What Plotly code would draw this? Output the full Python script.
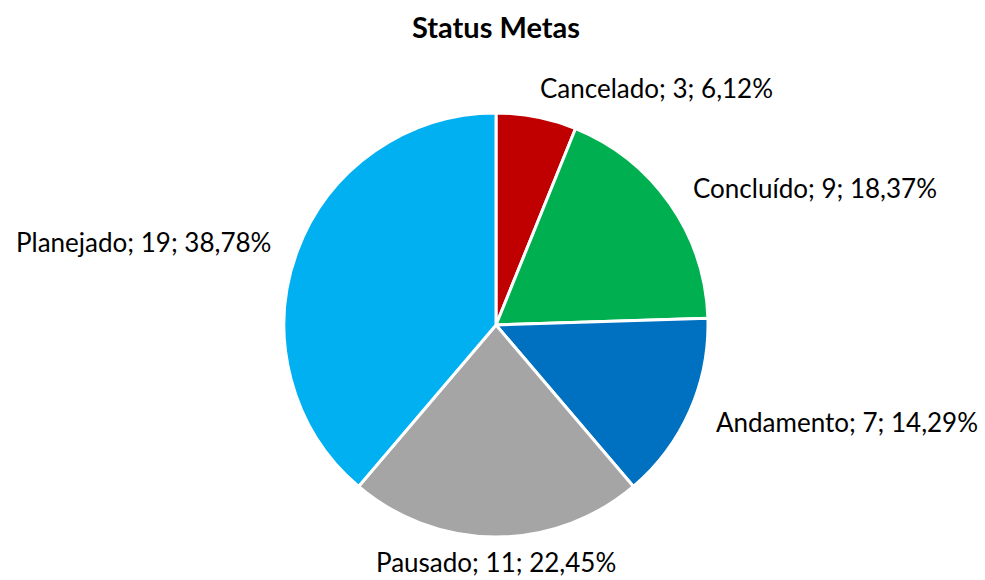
import math
import plotly.graph_objects as go

categories = ["Cancelado", "Concluído", "Andamento", "Pausado", "Planejado"]
values = [3, 9, 7, 11, 19]
colors = ["#C00000", "#00B050", "#0070C0", "#A5A5A5", "#00B0F0"]

W, H = 985, 580
cx, cy, R = 496, 325, 212
FONT = "Lato"
FS = 26
GAP_TOP, GAP_BOTTOM, GAP_H = 12, 8, 27

fig = go.Figure(go.Pie(
    labels=categories, values=values, sort=False, direction="clockwise",
    rotation=0, marker=dict(colors=colors, line=dict(color="white", width=3)),
    textinfo="none", hoverinfo="label+value+percent", showlegend=False,
    domain=dict(x=[(cx - R) / W, (cx + R) / W], y=[1 - (cy + R) / H, 1 - (cy - R) / H]),
))

total = sum(values)
cum = 0
annotations = []
for lab, v in zip(categories, values):
    mid = (cum + v / 2) / total * 2 * math.pi
    cum += v
    s, c = math.sin(mid), math.cos(mid)
    xa = "left" if s > 0.05 else ("right" if s < -0.05 else "center")
    ya = "bottom" if c > 0.8 else ("top" if c < -0.8 else "middle")
    gap = GAP_H if ya == "middle" else (GAP_TOP if ya == "bottom" else GAP_BOTTOM)
    px = cx + (R + gap) * s
    py = cy - (R + gap) * c
    pct = f"{v / total * 100:.2f}".replace(".", ",")
    annotations.append(dict(
        x=px / W, y=1 - py / H, xref="paper", yref="paper",
        text=f"{lab}; {v}; {pct}%", showarrow=False, borderpad=0,
        xanchor=xa, yanchor=ya, font=dict(family=FONT, size=FS, color="#000000"),
    ))

fig.update_layout(
    width=W, height=H, margin=dict(l=0, r=0, t=0, b=0),
    paper_bgcolor="white", plot_bgcolor="white",
    title=dict(text="<b>Status Metas</b>", x=cx / W, xanchor="center", y=1 - 28 / H, yanchor="middle",
               font=dict(family=FONT, size=29, color="#000000")),
    annotations=annotations,
)
fig.write_html("out.html", config={"displayModeBar": False},
               post_script="document.body.style.margin='0';document.body.style.overflow='hidden';")
